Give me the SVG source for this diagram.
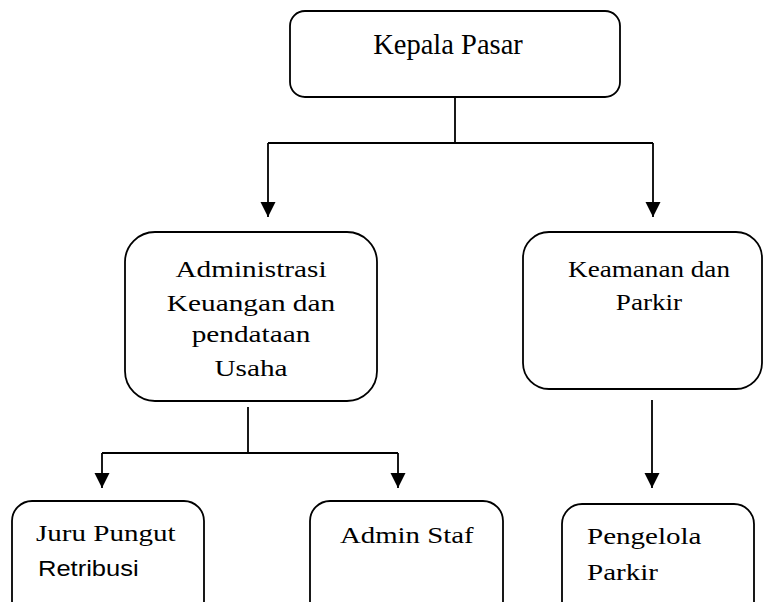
<svg xmlns="http://www.w3.org/2000/svg" width="765" height="602" viewBox="0 0 765 602">
<style>
  .box { fill: #fff; stroke: #000; stroke-width: 1.8; }
  .conn { fill: none; stroke: #000; stroke-width: 1.8; }
  .t { font-family: "Liberation Serif", "Times New Roman", serif; fill: #000; }
  .s { font-family: "Liberation Sans", Arial, sans-serif; fill: #000; }
  .m { text-anchor: middle; }
</style>
<defs>
  <marker id="arr" markerUnits="userSpaceOnUse" markerWidth="16" markerHeight="16" refX="15" refY="8" orient="auto">
    <path d="M0,0.5 L15,8 L0,15.5 Z" fill="#000"/>
  </marker>
</defs>
<rect width="765" height="602" fill="#fff"/>
<g id="connectors">
  <path class="conn" d="M455,97 V143"/>
  <path class="conn" d="M268,143 H653"/>
  <path class="conn" d="M268,143 V217" marker-end="url(#arr)"/>
  <path class="conn" d="M653,143 V217" marker-end="url(#arr)"/>
  <path class="conn" d="M248,407 V453"/>
  <path class="conn" d="M102,453 H398"/>
  <path class="conn" d="M102,453 V488" marker-end="url(#arr)"/>
  <path class="conn" d="M398,453 V488" marker-end="url(#arr)"/>
  <path class="conn" d="M652,400 V488" marker-end="url(#arr)"/>
</g>
<g id="kepala-pasar">
  <rect class="box" x="290" y="11" width="330" height="86" rx="15"/>
  <text class="t m" x="448" y="54" font-size="28.5">Kepala Pasar</text>
</g>
<g id="administrasi">
  <rect class="box" x="125" y="232" width="252" height="169" rx="30"/>
  <g transform="translate(251,0) scale(1.22,1)">
    <text class="t m" x="0" y="277" font-size="24">Administrasi</text>
    <text class="t m" x="0" y="311" font-size="24">Keuangan dan</text>
    <text class="t m" x="0" y="342" font-size="24">pendataan</text>
    <text class="t m" x="0" y="376" font-size="24">Usaha</text>
  </g>
</g>
<g id="keamanan">
  <rect class="box" x="523" y="232" width="239" height="157" rx="26"/>
  <g transform="translate(649,0) scale(1.18,1)">
    <text class="t m" x="0" y="277" font-size="23">Keamanan dan</text>
    <text class="t m" x="0" y="310" font-size="23">Parkir</text>
  </g>
</g>
<g id="juru-pungut">
  <rect class="box" x="12" y="501" width="192" height="120" rx="20"/>
  <text class="t" transform="translate(36,541) scale(1.21,1)" font-size="24">Juru Pungut</text>
  <text class="s" transform="translate(38,576) scale(1.16,1)" font-size="22">Retribusi</text>
</g>
<g id="admin-staf">
  <rect class="box" x="310" y="501" width="193" height="120" rx="20"/>
  <text class="t" transform="translate(340,543) scale(1.2,1)" font-size="24">Admin Staf</text>
</g>
<g id="pengelola-parkir">
  <rect class="box" x="562" y="504" width="192" height="120" rx="20"/>
  <text class="t" transform="translate(587,544) scale(1.21,1)" font-size="24">Pengelola</text>
  <text class="t" transform="translate(587,580) scale(1.21,1)" font-size="24">Parkir</text>
</g>
</svg>
